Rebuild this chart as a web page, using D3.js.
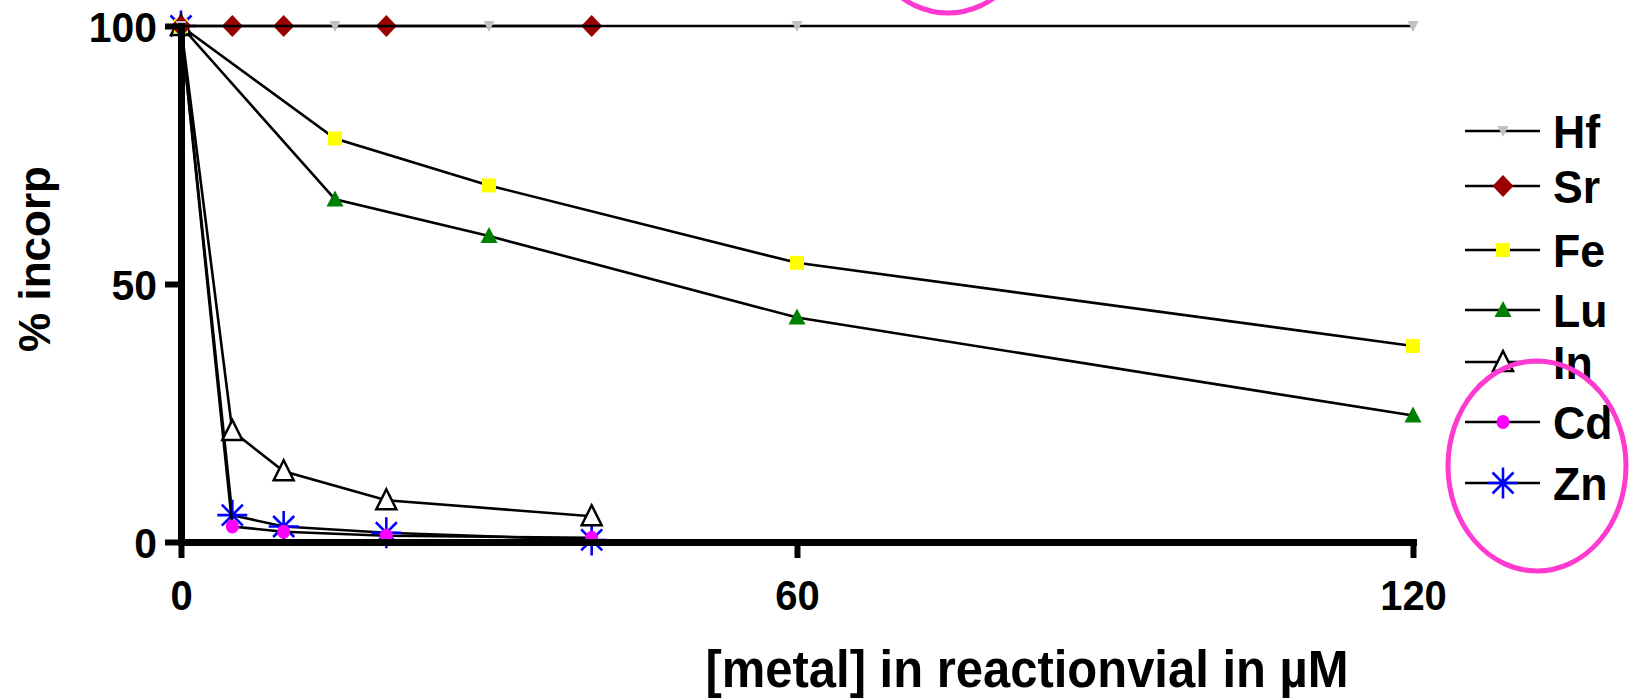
<!DOCTYPE html>
<html>
<head>
<meta charset="utf-8">
<script src="https://cdn.jsdelivr.net/npm/d3@7"></script>
<style>
  html, body { margin: 0; padding: 0; background: #fff; }
  svg { display: block; }
  text { font-family: "Liberation Sans", Arial, sans-serif; font-weight: bold; fill: #000; }
</style>
</head>
<body>
<svg id="chart" width="1632" height="698"></svg>
<script>
// ---------------- data ----------------
const seriesNames = ["Hf", "Sr", "Fe", "Lu", "In", "Cd", "Zn"];
const xHf = [0, 15, 30, 60, 120];
const yHf = [100, 100, 100, 100, 100];
const xSr = [0, 5, 10, 20, 40];
const ySr = [100, 100, 100, 100, 100];
const xFe = [0, 15, 30, 60, 120];
const yFe = [100, 78.2, 69.1, 54.1, 38.0];
const xLu = [0, 15, 30, 60, 120];
const yLu = [100, 66.4, 59.3, 43.5, 24.5];
const xIn = [0, 5, 10, 20, 40];
const yIn = [100, 21.5, 13.7, 8.1, 5.0];
const xCd = [0, 5, 10, 20, 40];
const yCd = [100, 3.0, 2.0, 1.2, 0.8];
const xZn = [0, 5, 10, 20, 40];
const yZn = [100, 5.2, 3.0, 1.8, 0.4];
const xTicks = [0, 60, 120];
const yTicks = [0, 50, 100];
const xTitle = "[metal] in reactionvial in µM";
const yTitle = "% incorp";

// ---------------- layout / style ----------------
const W = 1632, H = 698;
const X0 = 181, X1 = 1413, Y0 = 542, Y1 = 26;
const legendRowY = [131, 186, 250, 310, 362, 422, 483];
const styles = {
  Hf: { shape: "tridown", fill: "#c0c0c0" },
  Sr: { shape: "diamond", fill: "#990000" },
  Fe: { shape: "square", fill: "#ffff00" },
  Lu: { shape: "triup", fill: "#008000" },
  In: { shape: "tri_open", fill: "#ffffff" },
  Cd: { shape: "circle", fill: "#ff00ff" },
  Zn: { shape: "star", fill: "#0000ff" }
};
const pink = "#ff3ad0";

const svg = d3.select("#chart");
const x = d3.scaleLinear().domain([0, 120]).range([X0, X1]);
const y = d3.scaleLinear().domain([0, 100]).range([Y0, Y1]);

const seriesData = {
  Hf: xHf.map((v, i) => [v, yHf[i]]),
  Sr: xSr.map((v, i) => [v, ySr[i]]),
  Fe: xFe.map((v, i) => [v, yFe[i]]),
  Lu: xLu.map((v, i) => [v, yLu[i]]),
  In: xIn.map((v, i) => [v, yIn[i]]),
  Cd: xCd.map((v, i) => [v, yCd[i]]),
  Zn: xZn.map((v, i) => [v, yZn[i]])
};

// horizontally condense text to mimic a narrow bold face
function condense(sel, factor) {
  sel.each(function () {
    const len = this.getComputedTextLength();
    if (len > 0) d3.select(this).attr("textLength", len * factor).attr("lengthAdjust", "spacingAndGlyphs");
  });
}

function drawMarker(g, name, cx, cy) {
  const s = styles[name];
  const m = g.append("g").attr("transform", `translate(${cx},${cy})`);
  switch (s.shape) {
    case "tridown":
      m.append("path").attr("d", "M-5.5,-5 L5.5,-5 L0,6 Z").attr("fill", s.fill);
      break;
    case "diamond":
      m.append("path").attr("d", "M0,-11 L10.5,0 L0,11 L-10.5,0 Z").attr("fill", s.fill);
      break;
    case "square":
      m.append("rect").attr("x", -7).attr("y", -7).attr("width", 14).attr("height", 14).attr("fill", s.fill);
      break;
    case "triup":
      m.append("path").attr("d", "M0,-9 L8.5,7 L-8.5,7 Z").attr("fill", s.fill);
      break;
    case "tri_open":
      m.append("path").attr("d", "M0,-11 L10,9 L-10,9 Z")
        .attr("fill", "#fff").attr("stroke", "#000").attr("stroke-width", 2.5).attr("stroke-linejoin", "miter");
      break;
    case "circle":
      m.append("ellipse").attr("rx", 6.5).attr("ry", 7).attr("fill", s.fill);
      break;
    case "star":
      m.append("path")
        .attr("d", "M-15,0 L15,0 M0,-15.5 L0,15.5 M-10.5,-10.5 L10.5,10.5 M-10.5,10.5 L10.5,-10.5")
        .attr("stroke", s.fill).attr("stroke-width", 2.6).attr("fill", "none");
      break;
  }
}

// ---------------- series (drawn in reverse legend order) ----------------
const line = d3.line().x(d => x(d[0])).y(d => y(d[1]));
const plot = svg.append("g");
[...seriesNames].reverse().forEach(name => {
  const g = plot.append("g");
  g.append("path").datum(seriesData[name]).attr("d", line)
    .attr("fill", "none").attr("stroke", "#000").attr("stroke-width", 2.6);
  seriesData[name].forEach(d => drawMarker(g, name, x(d[0]), y(d[1])));
});

// ---------------- axes ----------------
const xAxis = d3.axisBottom(x).tickValues(xTicks).tickFormat(d3.format("d")).tickSizeInner(16).tickSizeOuter(0);
const yAxis = d3.axisLeft(y).tickValues(yTicks).tickFormat(d3.format("d")).tickSizeInner(16).tickSizeOuter(0);

const gx = svg.append("g").attr("transform", `translate(0,${Y0})`).call(xAxis);
const gy = svg.append("g").attr("transform", `translate(${X0},0)`).call(yAxis);

[gx, gy].forEach(g => {
  g.select(".domain").attr("stroke", "#000").attr("stroke-width", 7).attr("stroke-linecap", "square");
  g.selectAll(".tick line").attr("stroke", "#000").attr("stroke-width", 6);
  g.selectAll(".tick text").attr("fill", "#000")
    .style("font-family", '"Liberation Sans", Arial, sans-serif')
    .style("font-weight", "bold").style("font-size", "43px");
});
gx.selectAll(".tick text").attr("y", 68).attr("dy", null);
gy.selectAll(".tick text").attr("x", -24).attr("dy", "0.36em");
condense(gx.selectAll(".tick text"), 0.93);
condense(gy.selectAll(".tick text"), 0.95);

// titles
const xt = svg.append("text").attr("x", 1027).attr("y", 687).attr("text-anchor", "middle")
  .style("font-size", "51px").text(xTitle);
xt.attr("textLength", 643).attr("lengthAdjust", "spacingAndGlyphs");
svg.append("text").attr("transform", `translate(50,259) rotate(-90)`).attr("text-anchor", "middle")
  .style("font-size", "44px").text(yTitle);

// ---------------- legend ----------------
const legend = svg.append("g");
seriesNames.forEach((name, i) => {
  const ly = legendRowY[i];
  legend.append("line").attr("x1", 1465).attr("x2", 1540).attr("y1", ly).attr("y2", ly)
    .attr("stroke", "#000").attr("stroke-width", 2.6);
  drawMarker(legend, name, 1503, ly);
  const t = legend.append("text").attr("x", 1553).attr("y", ly).attr("dy", "0.36em")
    .style("font-size", "46px").text(name);
  condense(t, 0.97);
});

// ---------------- pink annotation ellipses ----------------
svg.append("ellipse").attr("cx", 1537).attr("cy", 466).attr("rx", 89).attr("ry", 105)
  .attr("fill", "none").attr("stroke", pink).attr("stroke-width", 5);
svg.append("ellipse").attr("cx", 948).attr("cy", -92).attr("rx", 89).attr("ry", 105)
  .attr("fill", "none").attr("stroke", pink).attr("stroke-width", 5);
</script>
</body>
</html>
